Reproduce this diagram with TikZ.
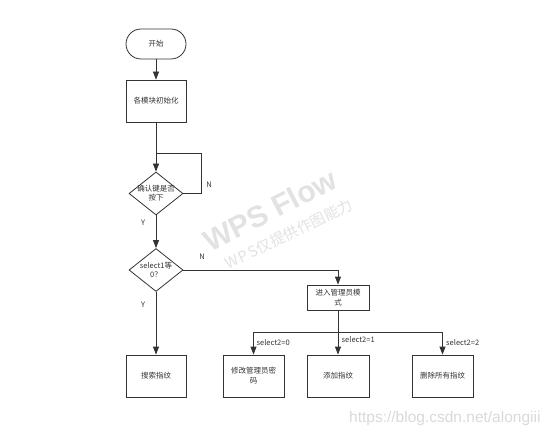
\documentclass[tikz,border=0pt]{standalone}
\usepackage{fontspec}
\setmainfont{Noto Sans CJK SC}
\newfontfamily\cjk{Noto Sans CJK SC}
\newfontfamily\wmfont{Liberation Sans}
\usetikzlibrary{arrows.meta,shapes.geometric}
\definecolor{ln}{HTML}{333333}
\definecolor{wm}{HTML}{E2E2E2}
\definecolor{wmb}{HTML}{D9D9D9}
\tikzset{
  base/.style={draw=ln, line width=0.8pt, fill=white, inner sep=0pt, font=\cjk\fontsize{7.5}{10}\selectfont, text=ln, align=center},
  procbox/.style={base, rectangle, minimum width=60pt, minimum height=42pt},
  termbox/.style={base, rectangle, rounded corners=15pt, minimum width=60pt, minimum height=30pt},
  decbox/.style={base, diamond, minimum width=54pt, minimum height=43pt},
  conn/.style={draw=ln, line width=0.8pt},
  arr/.style={conn, -{Triangle[length=8pt,width=6pt]}},
  lab/.style={font=\cjk\fontsize{7.5}{9}\selectfont, text=ln, inner sep=1pt}
}
\begin{document}
\begin{tikzpicture}[x=1pt,y=-1pt]
\useasboundingbox (0,0) rectangle (553,435);
% watermarks
\node[text=wm, font=\wmfont\bfseries\fontsize{30}{30}\selectfont, rotate=27, inner sep=0pt] (wm1) at (270,210) {WPS Flow};
\node[text=wm, font=\cjk\fontsize{15}{15}\selectfont, rotate=26, inner sep=0pt] (wm2) at (289,234) {W\kern1.5pt P\kern1.5pt S仅提供作图能力};
\node[text=wmb, font=\wmfont\fontsize{15.5}{16}\selectfont, anchor=west, inner sep=0pt] (wm3) at (349,418) {https://blog.csdn.net/alongiii};
% nodes
\node[termbox] (start) at (156,44) {开始};
\node[procbox] (init) at (156,101) {各模块初始化};
\node[decbox, label={[lab, align=center]center:确认键是否\\按下}] (d1) at (156,193.5) {};
\node[decbox, label={[lab, align=center]center:select1等\\0？}] (d2) at (156,270) {};
\node[procbox, minimum width=62pt, minimum height=25pt] (admin) at (338,297.5) {进入管理员模\\式};
\node[procbox] (search) at (156,376) {搜索指纹};
\node[procbox, minimum width=61pt] (modify) at (253.5,376) {修改管理员密\\码};
\node[procbox, minimum width=62pt] (add) at (338,376) {添加指纹};
\node[procbox, minimum width=61pt] (del) at (442.5,376) {删除所有指纹};
\coordinate (loopc) at (156,153);
\coordinate (loopr1) at (201,153);
\coordinate (loopr2) at (201,193.5);
\coordinate (d2r) at (338,270);
\coordinate (br) at (338,332);
\coordinate (brl) at (253.5,332);
\coordinate (brr) at (442.5,332);
% connectors
\draw[arr] (start) -- (init);
\draw[arr] (init) -- (d1.north);
\draw[conn] (d1.east) -- (loopr2) -- (loopr1) -- (loopc);
\draw[arr] (d1.south) -- (d2.north);
\draw[arr] (d2.east) -- (d2r) -- (admin.north);
\draw[arr] (d2.south) -- (search.north);
\draw[arr] (admin.south) -- (add.north);
\draw[conn] (brl) -- (brr);
\draw[arr] (brl) -- (modify.north);
\draw[arr] (brr) -- (del.north);
% labels
\node[lab] (n1) at (209,185) {N};
\node[lab] (y1) at (143,223) {Y};
\node[lab] (n2) at (202,257) {N};
\node[lab] (y2) at (143,305) {Y};
\node[lab, anchor=west] (s0) at (255.5,343) {select2=0};
\node[lab, anchor=west] (s1) at (340.5,340) {select2=1};
\node[lab, anchor=west] (s2) at (445,343) {select2=2};
\end{tikzpicture}
\end{document}
